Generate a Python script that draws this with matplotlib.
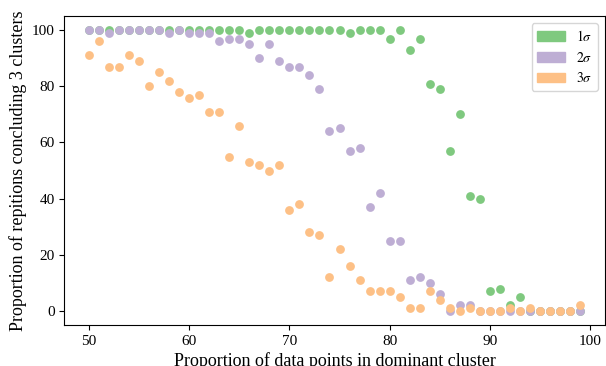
import matplotlib
matplotlib.use("Agg")
import matplotlib.pyplot as plt
import matplotlib.patches as mpatches

plt.rcParams['font.family'] = ['Liberation Serif', 'DejaVu Serif']
plt.rcParams['mathtext.fontset'] = 'stix'

# доля точек в доминирующем кластере
x = list(range(50, 100))

sigma1 = [100, 100, 100, 100, 100, 100, 100, 100, 100, 100,
          100, 100, 100, 100, 100, 100, 99, 100, 100, 100,
          100, 100, 100, 100, 100, 100, 99, 100, 100, 100,
          97, 100, 93, 97, 81, 79, 57, 70, 41, 40,
          7, 8, 2, 5, 0, 0, 0, 0, 0, 0]
sigma2 = [100, 100, 99, 100, 100, 100, 100, 100, 99, 100,
          99, 99, 99, 96, 97, 97, 95, 90, 95, 89,
          87, 87, 84, 79, 64, 65, 57, 58, 37, 42,
          25, 25, 11, 12, 10, 6, 0, 2, 2, 0,
          0, 0, 0, 0, 0, 0, 0, 0, 0, 0]
sigma3 = [91, 96, 87, 87, 91, 89, 80, 85, 82, 78,
          76, 77, 71, 71, 55, 66, 53, 52, 50, 52,
          36, 38, 28, 27, 12, 22, 16, 11, 7, 7,
          7, 5, 1, 1, 7, 4, 1, 0, 1, 0,
          0, 0, 1, 0, 1, 0, 0, 0, 0, 2]

labels = [r'$1\sigma$', r'$2\sigma$', r'$3\sigma$']
colors = ['#7fc97f', '#beaed4', '#fdc086']

fig = plt.figure(figsize=(6.06, 3.66), dpi=100)
ax = fig.add_axes([0.106, 0.112, 0.892, 0.844])

for y, c in zip([sigma1, sigma2, sigma3], colors):
    ax.scatter(x, y, color=c, s=40, linewidths=0)

ax.set_xlabel('Proportion of data points in dominant cluster', fontsize=13, labelpad=3)
ax.set_ylabel('Proportion of repitions concluding 3 clusters', fontsize=13, labelpad=3)
ax.tick_params(labelsize=11)

handles = [mpatches.Patch(color=c, label=l) for c, l in zip(colors, labels)]
ax.legend(handles=handles, loc='upper right', fontsize=10)

fig.savefig('out.png', dpi=100)
